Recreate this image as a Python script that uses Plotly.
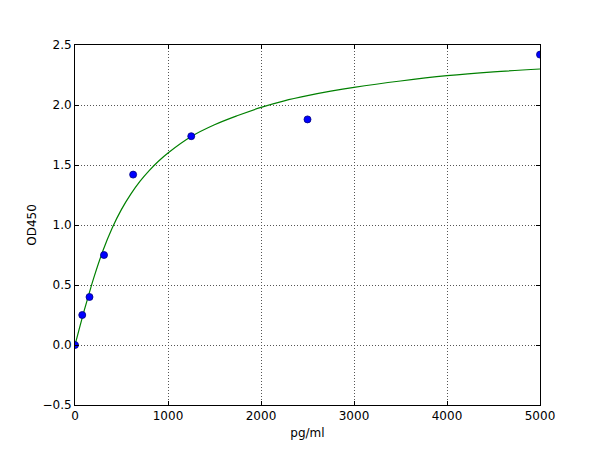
import plotly.graph_objects as go

# measured standards
conc = [0, 78, 156, 312, 625, 1250, 2500, 5000]
od450 = [0.0, 0.25, 0.40, 0.75, 1.42, 1.74, 1.88, 2.42]

# fitted curve
curve_x = [0, 50, 100, 150, 200, 300, 400, 500, 600, 700, 800, 900, 1000,
           1250, 1500, 1750, 2000, 2250, 2500, 2750, 3000, 3500, 4000, 4500, 5000]
curve_y = [0.0, 0.147, 0.29, 0.424, 0.555, 0.785, 0.975, 1.13, 1.257, 1.365, 1.455, 1.533, 1.60,
           1.737, 1.835, 1.912, 1.98, 2.035, 2.078, 2.115, 2.147, 2.20, 2.244, 2.276, 2.30]

x_ticks = [0, 1000, 2000, 3000, 4000, 5000]
y_ticks = [-0.5, 0.0, 0.5, 1.0, 1.5, 2.0, 2.5]
y_labels = ["\u22120.5", "0.0", "0.5", "1.0", "1.5", "2.0", "2.5"]

fig = go.Figure()

fig.add_trace(go.Scatter(
    x=curve_x, y=curve_y, mode="lines",
    line=dict(color="#008000", width=1.2, shape="spline", smoothing=1),
))
fig.add_trace(go.Scatter(
    x=conc, y=od450, mode="markers",
    marker=dict(color="#0000ff", size=7, line=dict(color="#00007f", width=0.8)),
))

font = dict(family="DejaVu Sans", size=12, color="black")

axis_common = dict(
    showline=True, linecolor="black", linewidth=1, mirror="allticks",
    ticks="inside", ticklen=4, tickcolor="black",
    showgrid=True, gridcolor="#555555", griddash="1px,2px", gridwidth=0.8,
    zeroline=False, tickfont=font,
)

# page body adds ~8px offset, so margins are shifted to put the axes box at 75..540 / 45..405
fig.update_layout(
    width=600, height=450,
    paper_bgcolor="white", plot_bgcolor="white",
    showlegend=False,
    margin=dict(l=67, r=68, t=37, b=53),
    xaxis=dict(
        range=[0, 5000], tickvals=x_ticks, ticktext=[str(v) for v in x_ticks],
        title=dict(text="pg/ml", font=font, standoff=6),
        **axis_common,
    ),
    yaxis=dict(
        range=[-0.5, 2.5], tickvals=y_ticks, ticktext=y_labels,
        title=dict(text="OD450", font=font, standoff=3),
        **axis_common,
    ),
)

fig.write_html("out.html")
